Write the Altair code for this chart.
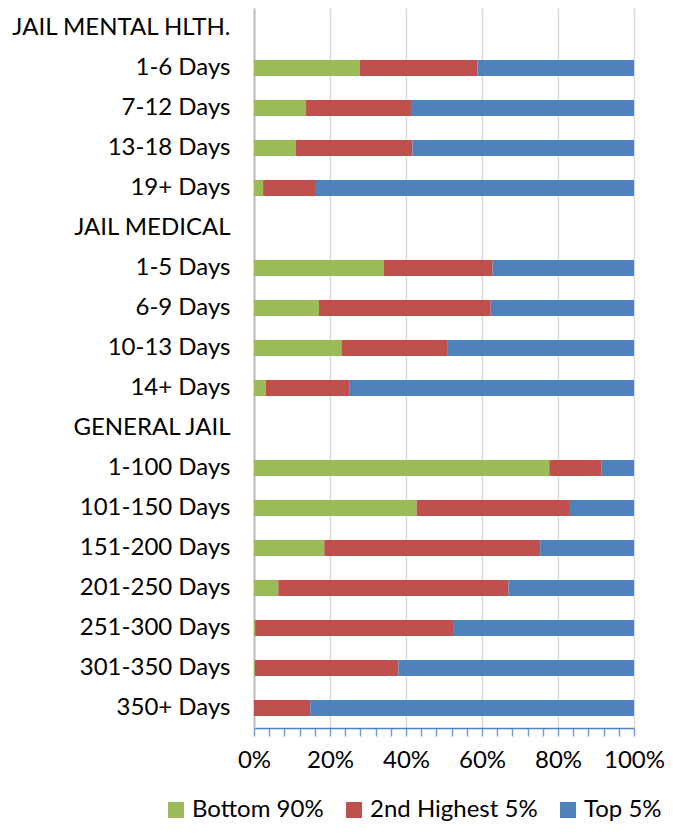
import altair as alt
import pandas as pd

rows = [
    "JAIL MENTAL HLTH.", "1-6 Days", "7-12 Days", "13-18 Days", "19+ Days",
    "JAIL MEDICAL", "1-5 Days", "6-9 Days", "10-13 Days", "14+ Days",
    "GENERAL JAIL", "1-100 Days", "101-150 Days", "151-200 Days", "201-250 Days",
    "251-300 Days", "301-350 Days", "350+ Days",
]
categories = [
    "1-6 Days", "7-12 Days", "13-18 Days", "19+ Days",
    "1-5 Days", "6-9 Days", "10-13 Days", "14+ Days",
    "1-100 Days", "101-150 Days", "151-200 Days", "201-250 Days",
    "251-300 Days", "301-350 Days", "350+ Days",
]
bottom90 = [27.8, 13.7, 11.0, 2.4, 34.1, 17.1, 23.0, 3.1, 77.7, 42.8, 18.5, 6.4, 0.3, 0.25, 0.0]
second5 = [31.0, 27.6, 30.7, 13.9, 28.7, 45.2, 28.0, 22.1, 13.8, 40.1, 56.8, 60.6, 52.3, 37.75, 14.8]
top5 = [41.2, 58.7, 58.3, 83.7, 37.2, 37.7, 49.0, 74.8, 8.5, 17.1, 24.7, 33.0, 47.4, 62.0, 85.2]

series = ["Bottom 90%", "2nd Highest 5%", "Top 5%"]
colors = ["#9BBB59", "#C0504D", "#4F81BD"]

recs = []
for i, c in enumerate(categories):
    for j, (s, vals) in enumerate(zip(series, [bottom90, second5, top5])):
        recs.append({"cat": c, "series": s, "order": j, "value": vals[i] / 100})
df = pd.DataFrame(recs)

FONT = "Lato"
tick_vals = [round(i * 0.04, 2) for i in range(26)]

chart = alt.Chart(df).mark_bar().encode(
    y=alt.Y("cat:N", sort=rows,
            scale=alt.Scale(domain=rows, paddingInner=0.6, paddingOuter=0.3),
            axis=alt.Axis(title=None, ticks=False, grid=False, labelFontSize=24,
                          labelFont=FONT, labelColor="#000000", labelPadding=24,
                          labelLimit=400, domainColor="#BFBFBF", domainWidth=2,
                          minExtent=246, maxExtent=246)),
    x=alt.X("value:Q", stack="normalize",
            scale=alt.Scale(domain=[0, 1], nice=False),
            axis=alt.Axis(title=None, values=tick_vals, format=".0%",
                          labelExpr="round(datum.value*100) % 20 == 0 ? datum.label : ''",
                          labelOverlap=False, labelFlush=False,
                          labelFontSize=24, labelFont=FONT, labelColor="#000000",
                          labelPadding=12, tickSize=8, tickColor="#7A9CCB",
                          tickWidth=1.5, domainColor="#4F81BD", domainWidth=1.5,
                          grid=True, gridColor="#D9D9D9", gridWidth=1.5,
                          gridOpacity={"condition": {"test": "round(datum.value*100) % 20 == 0", "value": 1}, "value": 0})),
    color=alt.Color("series:N", scale=alt.Scale(domain=series, range=colors),
                    legend=alt.Legend(title=None, orient="none", direction="horizontal",
                                      legendX=-90, legendY=790, symbolType="square",
                                      symbolSize=256, symbolStrokeWidth=0, labelFontSize=24,
                                      labelFont=FONT, labelColor="#000000", columnPadding=18,
                                      symbolOpacity=1, labelLimit=400)),
    order=alt.Order("order:Q"),
).properties(
    width=380, height=720,
    padding={"left": 0, "top": 0, "right": 0, "bottom": 0},
).configure_view(stroke=None)

chart.save("out.html", embed_options={"renderer": "svg", "actions": False})
